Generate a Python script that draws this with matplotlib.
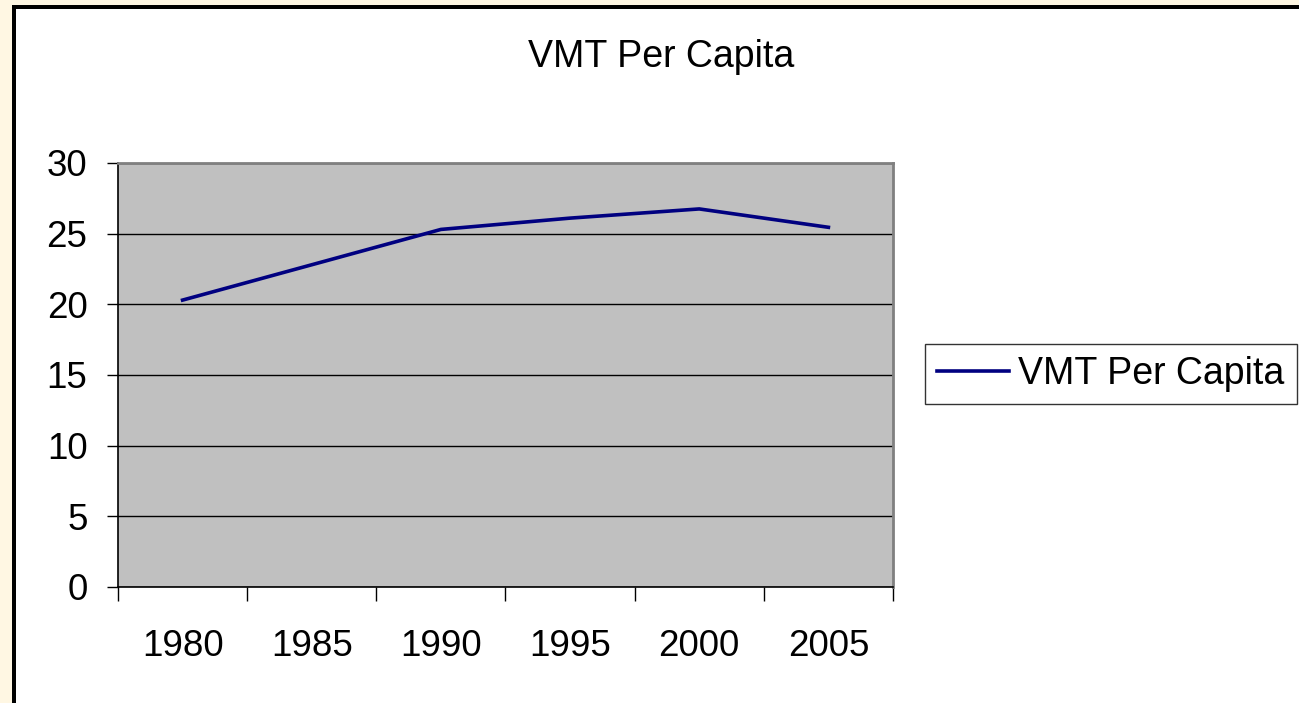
import matplotlib
matplotlib.use("Agg")
import matplotlib.pyplot as plt
from matplotlib.patches import Rectangle

years = ["1980", "1985", "1990", "1995", "2000", "2005"]
vmt = [20.3, 22.8, 25.3, 26.1, 26.75, 25.45]
series_name = "VMT Per Capita"

plt.rcParams["font.family"] = ["Liberation Sans", "DejaVu Sans"]

W, H = 1299, 703
fig = plt.figure(figsize=(W / 100, H / 100), dpi=100, facecolor="white")

# cream outer frame + black chart border
cream = "#FFF7E3"
fig.patches.append(Rectangle((0, 0), 12 / W, 1, transform=fig.transFigure,
                             facecolor=cream, edgecolor="none", zorder=0))
fig.patches.append(Rectangle((0, 1 - 5 / H), 1, 5 / H, transform=fig.transFigure,
                             facecolor=cream, edgecolor="none", zorder=0))
fig.patches.append(Rectangle((12 / W, 0), 3.5 / W, 1 - 5 / H, transform=fig.transFigure,
                             facecolor="black", edgecolor="none", zorder=1))
fig.patches.append(Rectangle((12 / W, 1 - 8.5 / H), 1, 3.5 / H, transform=fig.transFigure,
                             facecolor="black", edgecolor="none", zorder=1))

ax = fig.add_axes([118 / W, 1 - 587 / H, (893 - 118) / W, (587 - 163) / H])
ax.set_facecolor("#C0C0C0")

x = list(range(len(years)))
ax.plot(x, vmt, color="#000080", lw=2.6, label=series_name)

ax.set_xlim(-0.5, len(years) - 0.5)
ax.set_ylim(0, 30)
ax.set_yticks([0, 5, 10, 15, 20, 25, 30])
ax.set_xticks([i - 0.5 for i in range(len(years) + 1)])
ax.set_xticklabels([])
ax.set_xticks(x, minor=True)
ax.set_xticklabels(years, minor=True)
ax.tick_params(axis="x", which="minor", length=0, pad=30, labelsize=26.5)
ax.tick_params(axis="x", which="major", length=10, width=1, direction="out")
ax.tick_params(axis="y", length=8, width=1, direction="out", pad=14, labelsize=26.5)

ax.grid(axis="y", color="black", lw=1)
ax.set_axisbelow(True)
for s in ["top", "right"]:
    ax.spines[s].set_color("#808080")
    ax.spines[s].set_linewidth(2)
for s in ["left", "bottom"]:
    ax.spines[s].set_color("black")
    ax.spines[s].set_linewidth(1.2)

fig.text(661 / W, 1 - 57 / H, "VMT Per Capita", ha="center", va="center", fontsize=27)

leg = ax.legend(loc="center left", bbox_to_anchor=(925 / W, 1 - 374 / H),
                bbox_transform=fig.transFigure, fontsize=27, frameon=True,
                fancybox=False, borderpad=0.33, handlelength=1.9, handletextpad=0.25,
                borderaxespad=0)
leg.get_frame().set_edgecolor("black")
leg.get_frame().set_linewidth(1)

fig.savefig("out.png", dpi=100, facecolor=fig.get_facecolor())
